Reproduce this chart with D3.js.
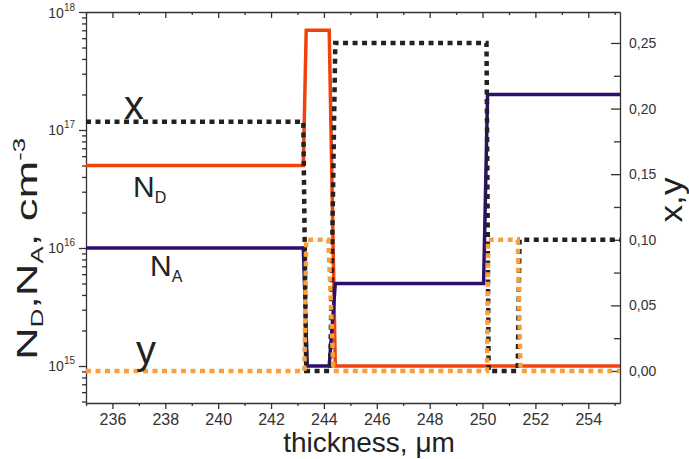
<!DOCTYPE html>
<html>
<head>
<meta charset="utf-8">
<script src="https://cdn.jsdelivr.net/npm/d3@7"></script>
<style>
  body { margin: 0; background: #fff; }
  svg { display: block; font-family: "Liberation Sans", Arial, sans-serif; }
  .axis path, .axis line { stroke: #333; stroke-width: 1.3; }
  .axis text { fill: #333; }
</style>
</head>
<body>
<div class="svgContainer"></div>
<script>
// thickness (um) breakpoints and values
var ndX   = [235, 243.22, 243.33, 244.2, 244.43, 255.2];
var ndVal = [5e16, 5e16, 7e17, 7e17, 1e15, 1e15];

var naX   = [235, 243.22, 243.37, 244.2, 244.43, 250.04, 250.19, 255.2];
var naVal = [1e16, 1e16, 1e15, 1e15, 5e15, 5e15, 2e17, 2e17];

var xX    = [235, 243.22, 243.33, 244.24, 244.43, 250.15, 250.23, 251.33, 251.4, 255.2];
var xVal  = [0.19, 0.19, 0, 0, 0.25, 0.25, 0, 0, 0.10, 0.10];

var yX    = [235, 243.26, 243.33, 244.17, 244.36, 250.17, 250.21, 251.33, 251.44, 255.2];
var yVal  = [0, 0, 0.10, 0.10, 0, 0, 0.10, 0.10, 0, 0];

var xTicks = [236, 238, 240, 242, 244, 246, 248, 250, 252, 254];
var logTicks = [1e15, 1e16, 1e17, 1e18];
var linTicks = [0, 0.05, 0.10, 0.15, 0.20, 0.25];

(function () {
var w = 689, h = 459;
var mL = 86, mR = 620, mT = 12, mB = 403;

var svg = d3.select(".svgContainer")
            .append("svg")
            .attr("width", w)
            .attr("height", h);

var xScale = d3.scaleLinear().domain([235, 255.2]).range([mL, mR]);
var yLog = d3.scaleLog().domain([4.857e14, 1e18]).range([mB, mT]);
var yLin = d3.scaleLinear().domain([-0.0244, 0.2736]).range([mB, mT]);

// minor ticks
var logMinor = [];
[14, 15, 16, 17].forEach(function (e) {
  for (var k = 2; k <= 9; k++) {
    var v = k * Math.pow(10, e);
    if (v >= 4.857e14 && v <= 1e18) logMinor.push(v);
  }
});
var linMinor = [0.025, 0.075, 0.125, 0.175, 0.225];
var xMinor = d3.range(235, 256, 2);

// bottom axis
svg.append("g").attr("class", "axis").attr("transform", "translate(0," + mB + ")")
   .call(d3.axisBottom(xScale).tickValues(xMinor).tickSize(3).tickSizeOuter(0).tickFormat(""));
svg.append("g").attr("class", "axis").attr("transform", "translate(0," + mB + ")")
   .call(d3.axisBottom(xScale).tickValues(xTicks).tickSize(6).tickPadding(5).tickSizeOuter(0))
   .call(function (g) { g.select(".domain").remove(); })
   .selectAll("text").attr("font-size", 16);

// top axis (ticks inward)
svg.append("g").attr("class", "axis").attr("transform", "translate(0," + mT + ")")
   .call(d3.axisTop(xScale).tickValues(xMinor).tickSize(-3).tickSizeOuter(0).tickFormat(""));
svg.append("g").attr("class", "axis").attr("transform", "translate(0," + mT + ")")
   .call(d3.axisTop(xScale).tickValues(xTicks).tickSize(-6).tickSizeOuter(0).tickFormat(""))
   .call(function (g) { g.select(".domain").remove(); });

// left log axis
svg.append("g").attr("class", "axis").attr("transform", "translate(" + mL + ",0)")
   .call(d3.axisLeft(yLog).tickValues(logMinor).tickSize(4).tickSizeOuter(0).tickFormat(""));
var leftAx = svg.append("g").attr("class", "axis").attr("transform", "translate(" + mL + ",0)")
   .call(d3.axisLeft(yLog).tickValues(logTicks).tickSize(7).tickSizeOuter(0).tickFormat(""));
leftAx.select(".domain").remove();
leftAx.selectAll(".tick").append("text")
   .attr("x", -11).attr("y", 5)
   .attr("text-anchor", "end")
   .attr("font-size", 14)
   .each(function (d) {
     var t = d3.select(this);
     t.append("tspan").text("10");
     t.append("tspan").attr("font-size", 10).attr("dy", -7).text(Math.round(Math.log10(d)));
   });

// right linear axis (ticks inward)
svg.append("g").attr("class", "axis").attr("transform", "translate(" + mR + ",0)")
   .call(d3.axisRight(yLin).tickValues(linMinor).tickSize(-6).tickSizeOuter(0).tickFormat(""));
svg.append("g").attr("class", "axis").attr("transform", "translate(" + mR + ",0)")
   .call(d3.axisRight(yLin).tickValues(linTicks).tickSize(-9).tickPadding(9).tickSizeOuter(0)
         .tickFormat(function (d) { return d3.format(".2f")(d).replace(".", ","); }))
   .call(function (g) { g.select(".domain").remove(); })
   .selectAll("text").attr("font-size", 14);

// series
svg.append("clipPath").attr("id", "clip")
   .append("rect").attr("x", mL).attr("y", mT).attr("width", mR - mL).attr("height", mB - mT);

var plot = svg.append("g").attr("clip-path", "url(#clip)");

var logLine = d3.line().x(function (d) { return xScale(d[0]); }).y(function (d) { return yLog(d[1]); });
var linLine = d3.line().x(function (d) { return xScale(d[0]); }).y(function (d) { return yLin(d[1]); });

function pairs(xs, vs) { return xs.map(function (x, i) { return [x, vs[i]]; }); }

plot.append("path").datum(pairs(ndX, ndVal)).attr("d", logLine)
    .attr("fill", "none").attr("stroke", "#f0420c").attr("stroke-width", 3.5);
plot.append("path").datum(pairs(naX, naVal)).attr("d", logLine)
    .attr("fill", "none").attr("stroke", "#2e0f6e").attr("stroke-width", 3.5);
plot.append("path").datum(pairs(xX, xVal)).attr("d", linLine)
    .attr("fill", "none").attr("stroke", "#222").attr("stroke-width", 4.5)
    .attr("stroke-dasharray", "5,4.5");
plot.append("path").datum(pairs(yX, yVal)).attr("d", linLine)
    .attr("fill", "none").attr("stroke", "#f9a03c").attr("stroke-width", 4.5)
    .attr("stroke-dasharray", "5,4.5");

// in-plot labels
svg.append("text").attr("x", 124).attr("y", 119).attr("font-size", 40).attr("fill", "#222").text("x");
var nd = svg.append("text").attr("x", 133).attr("y", 197).attr("font-size", 30).attr("fill", "#222");
nd.append("tspan").text("N");
nd.append("tspan").attr("font-size", 16).attr("dy", 6).text("D");
var na = svg.append("text").attr("x", 150).attr("y", 276).attr("font-size", 30).attr("fill", "#222");
na.append("tspan").text("N");
na.append("tspan").attr("font-size", 16).attr("dy", 6).text("A");
svg.append("text").attr("x", 136).attr("y", 364).attr("font-size", 40).attr("fill", "#222").text("y");

// axis titles
svg.append("text").attr("x", 369).attr("y", 452).attr("text-anchor", "middle")
   .attr("font-size", 28).attr("fill", "#222").text("thickness, \u03bcm");

var lt = svg.append("text").attr("text-anchor", "middle").attr("font-size", 30).attr("fill", "#222");
lt.append("tspan").text("N");
lt.append("tspan").attr("font-size", 17).attr("dy", 6).text("D");
lt.append("tspan").attr("dy", -6).text(",N");
lt.append("tspan").attr("font-size", 17).attr("dy", 6).text("A");
lt.append("tspan").attr("dy", -6).text(", cm");
lt.append("tspan").attr("font-size", 17).attr("dy", -12).text("-3");
var ltw = lt.node().getComputedTextLength();
lt.attr("transform", "translate(37,249) rotate(-90) scale(" + (222 / ltw) + ",1)");

var rt = svg.append("text").attr("text-anchor", "middle").attr("font-size", 32).attr("fill", "#222")
   .text("x,y");
var rtw = rt.node().getComputedTextLength();
rt.attr("transform", "translate(682,200) rotate(-90) scale(" + (45 / rtw) + ",1)");
})();
</script>
</body>
</html>
